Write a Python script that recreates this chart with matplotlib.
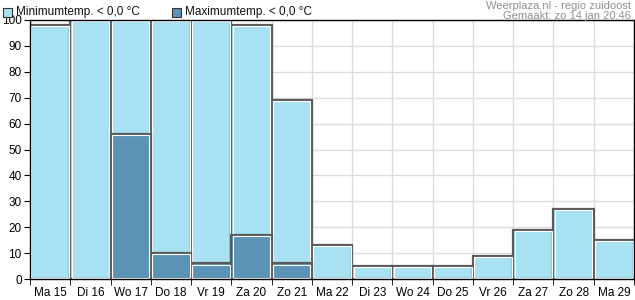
import numpy as np
import matplotlib.pyplot as plt

plt.rcParams['font.family'] = ['Liberation Sans', 'DejaVu Sans']

days = ['Ma 15', 'Di 16', 'Wo 17', 'Do 18', 'Vr 19', 'Za 20', 'Zo 21', 'Ma 22',
        'Di 23', 'Wo 24', 'Do 25', 'Vr 26', 'Za 27', 'Zo 28', 'Ma 29']
min_below = [98, 100, 100, 100, 100, 98, 69, 13, 5, 5, 5, 9, 19, 27, 15]
max_below = [0, 0, 56, 10, 6, 17, 6, 0, 0, 0, 0, 0, 0, 0, 0]

LIGHT = '#a8e1f2'
DARK = '#5a93b6'
EDGE = '#5a5a5a'

fig = plt.figure(figsize=(6.35, 3.0), dpi=100)
ax = fig.add_axes([30 / 635, 21 / 300, 604 / 635, 259 / 300])

x = np.arange(len(days))


def framed_bars(vals, color, zorder):
    vals = np.asarray(vals, dtype=float)
    keep = vals > 0
    ax.bar(x[keep], vals[keep], width=1.0, color=color, edgecolor=EDGE,
           linewidth=1.6, zorder=zorder)
    # thin white highlight just inside the dark frame
    ax.bar(x[keep], vals[keep] - 0.9, bottom=0.45, width=0.93, fill=False,
           edgecolor='white', linewidth=0.8, zorder=zorder + 0.1)


framed_bars(min_below, LIGHT, 2)
framed_bars(max_below, DARK, 3)

ax.set_xlim(-0.5, len(days) - 0.5)
ax.set_ylim(0, 100)
ax.set_yticks(np.arange(0, 101, 10))
ax.set_xticks(x)
ax.set_xticklabels(days)
ax.set_xticks(np.arange(-0.5, len(days), 1.0), minor=True)
ax.tick_params(axis='x', which='major', length=0, pad=6, labelsize=8.5)
ax.tick_params(axis='x', which='minor', length=4, direction='out', color='black')
ax.tick_params(axis='y', length=4, direction='out', labelsize=8.5, pad=2)
ax.grid(True, which='minor', axis='x', color='#dddddd', linewidth=1, zorder=0)
ax.grid(True, which='major', axis='y', color='#dddddd', linewidth=1, zorder=0)
ax.set_axisbelow(True)
for s in ax.spines.values():
    s.set_color('black')
    s.set_linewidth(1)
    s.set_zorder(5)

# legend above the plot
for lx, col, label in [(3, LIGHT, 'Minimumtemp. < 0,0 °C'),
                       (172, DARK, 'Maximumtemp. < 0,0 °C')]:
    fig.patches.append(plt.Rectangle((lx / 635, 1 - 17 / 300), 9 / 635, 9 / 300,
                                     transform=fig.transFigure, facecolor=col,
                                     edgecolor='#333333', linewidth=0.8))
    fig.text((lx + 13) / 635, 1 - 12.5 / 300, label, fontsize=8.5,
             va='center', ha='left', color='#111111')

fig.text(631 / 635, 1 - 6 / 300, 'Weerplaza.nl - regio zuidoost', fontsize=8,
         color='#909090', ha='right', va='center')
fig.text(631 / 635, 1 - 16 / 300, 'Gemaakt: zo 14 jan 20:46', fontsize=8,
         color='#909090', ha='right', va='center')

fig.savefig('out.png', dpi=100)
